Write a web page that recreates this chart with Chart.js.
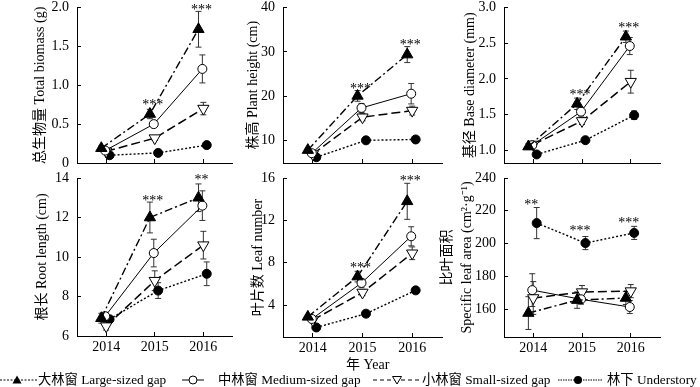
<!DOCTYPE html>
<html>
<head>
<meta charset="utf-8">
<script src="https://cdn.jsdelivr.net/npm/chart.js@4/dist/chart.umd.min.js"></script>
<style>
  body { margin: 0; background: #fff; }
  #wrap { position: relative; width: 700px; height: 387px; overflow: hidden; font-family: "Liberation Serif", "Noto Sans CJK SC", serif; font-size: 14px; color: #000; }
  canvas { position: absolute; }
  .lbl { position: absolute; white-space: nowrap; line-height: 16px; }
  .leg { font-size: 13.3px; }
  svg { position: absolute; }
</style>
</head>
<body>
<div id="wrap">
  <canvas id="p1" width="240" height="175" style="left:0;top:0"></canvas>
  <canvas id="p2" width="215" height="175" style="left:236px;top:0"></canvas>
  <canvas id="p3" width="260" height="175" style="left:440px;top:0"></canvas>
  <canvas id="p4" width="240" height="190" style="left:0;top:168px"></canvas>
  <canvas id="p5" width="215" height="190" style="left:236px;top:168px"></canvas>
  <canvas id="p6" width="270" height="190" style="left:430px;top:168px"></canvas>

  <div class="lbl" style="left:346px;top:357px">年 Year</div>

  <svg width="37" height="12" style="left:0;top:374px">
    <line x1="0" y1="6" x2="37" y2="6" stroke="#000" stroke-width="1.2" stroke-dasharray="2,1.5"/>
    <polygon points="17,1.5 21.5,9.5 12.5,9.5" fill="#000"/>
  </svg>
  <div class="lbl leg" style="left:38px;top:372px">大林窗 Large-sized gap</div>

  <svg width="22" height="12" style="left:182px;top:374px">
    <line x1="0" y1="6" x2="22" y2="6" stroke="#000" stroke-width="1"/>
    <circle cx="11" cy="6" r="4" fill="#fff" stroke="#000" stroke-width="1"/>
  </svg>
  <div class="lbl leg" style="left:218px;top:372px">中林窗 Medium-sized gap</div>

  <svg width="46" height="12" style="left:373px;top:374px">
    <line x1="0" y1="6" x2="46" y2="6" stroke="#000" stroke-width="1" stroke-dasharray="4,3"/>
    <polygon points="19.5,2.5 28.5,2.5 24,10" fill="#fff" stroke="#000" stroke-width="1"/>
  </svg>
  <div class="lbl leg" style="left:422px;top:372px">小林窗 Small-sized gap</div>

  <svg width="45" height="12" style="left:558px;top:374px">
    <line x1="0" y1="6" x2="45" y2="6" stroke="#000" stroke-width="1.2" stroke-dasharray="1.5,1"/>
    <circle cx="20" cy="6" r="4" fill="#000"/>
  </svg>
  <div class="lbl leg" style="left:607px;top:372px">林下 Understory</div>
</div>

<script>
const anos = [2014, 2015, 2016];

// biomassa total (g)
const biomassaGrande = [0.19, 0.63, 1.72];
const biomassaMedia = [0.16, 0.50, 1.21];
const biomassaPequena = [0.15, 0.32, 0.70];
const biomassaSub = [0.10, 0.13, 0.23];
const biomassaErroGrande = [0.03, 0.06, 0.23];
const biomassaErroMedia = [0.02, 0.04, 0.18];
const biomassaErroPequena = [0.02, 0.03, 0.08];
const biomassaErroSub = [0.01, 0.01, 0.02];
const biomassaTicks = [0, 0.5, 1.0, 1.5, 2.0];

// altura (cm)
const alturaGrande = [7.9, 20.1, 29.4];
const alturaMedia = [7.2, 17.4, 20.6];
const alturaPequena = [7.0, 15.3, 16.8];
const alturaSub = [6.3, 10.1, 10.3];
const alturaErroGrande = [0.5, 1.2, 1.8];
const alturaErroMedia = [0.4, 1.0, 2.3];
const alturaErroPequena = [0.4, 0.8, 1.0];
const alturaErroSub = [0.2, 0.3, 0.3];
const alturaTicks = [10, 20, 30, 40];

// diametro da base (mm)
const diametroGrande = [1.05, 1.65, 2.59];
const diametroMedia = [1.07, 1.54, 2.46];
const diametroPequena = [1.08, 1.41, 1.96];
const diametroSub = [0.94, 1.14, 1.49];
const diametroErroGrande = [0.04, 0.08, 0.08];
const diametroErroMedia = [0.03, 0.06, 0.12];
const diametroErroPequena = [0.03, 0.05, 0.16];
const diametroErroSub = [0.02, 0.03, 0.06];
const diametroTicks = [1.0, 1.5, 2.0, 2.5, 3.0];

// comprimento da raiz (cm)
const raizGrande = [6.9, 12.0, 13.0];
const raizMedia = [7.0, 10.2, 12.6];
const raizPequena = [6.5, 8.8, 10.6];
const raizSub = [6.85, 8.3, 9.15];
const raizErroGrande = [0.25, 0.78, 0.7];
const raizErroMedia = [0.2, 0.7, 0.75];
const raizErroPequena = [0.2, 0.5, 0.7];
const raizErroSub = [0.15, 0.4, 0.6];
const raizTicks = [6, 8, 10, 12, 14];

// numero de folhas
const folhasGrande = [2.9, 6.7, 13.8];
const folhasMedia = [2.7, 6.1, 10.5];
const folhasPequena = [2.6, 5.2, 8.9];
const folhasSub = [1.9, 3.2, 5.4];
const folhasErroGrande = [0.2, 0.5, 1.7];
const folhasErroMedia = [0.2, 0.4, 0.9];
const folhasErroPequena = [0.2, 0.3, 0.6];
const folhasErroSub = [0.1, 0.15, 0.2];
const folhasTicks = [4, 8, 12, 16];

// area foliar especifica (cm2/g)
const afeGrande = [157.6, 165.5, 166.8];
const afeMedia = [171.6, 166.0, 161.3];
const afePequena = [166.8, 170.4, 171.0];
const afeSub = [212.5, 200.3, 206.5];
const afeErroGrande = [10, 5, 4];
const afeErroMedia = [10, 3, 4];
const afeErroPequena = [10, 4, 4];
const afeErroSub = [9.5, 4, 4];
const afeTicks = [160, 180, 200, 220, 240];

// asteriscos de significancia
const sigBiomassa = [{ ano: 2015, y: 0.78, txt: '***' }, { ano: 2016, y: 2.01, txt: '***' }];
const sigAltura = [{ ano: 2015, y: 22.3, txt: '***' }, { ano: 2016, y: 32.3, txt: '***' }];
const sigDiametro = [{ ano: 2015, y: 1.81, txt: '***' }, { ano: 2016, y: 2.76, txt: '***' }];
const sigRaiz = [{ ano: 2015, y: 13.0, txt: '***' }, { ano: 2016, y: 14.05, txt: '**' }];
const sigFolhas = [{ ano: 2015, y: 7.8, txt: '***' }, { ano: 2016, y: 16.0, txt: '***' }];
const sigAfe = [{ ano: 2014, y: 225.3, txt: '**' }, { ano: 2015, y: 209.5, txt: '***' }, { ano: 2016, y: 214.3, txt: '***' }];

const FONTE = '"Liberation Serif", "Noto Sans CJK SC", serif';

// deslocamento horizontal de cada serie para nao sobrepor
const desloc = { grande: -0.1, media: -0.02, pequena: 0.0, sub: 0.07 };

function pontos(valores, dx) {
    return valores.map((v, i) => ({ x: anos[i] + dx, y: v }));
}

function series(g, m, p, s, eg, em, ep, es) {
    return [
        { data: pontos(g, desloc.grande), erros: eg, borderColor: '#000', borderWidth: 1.4, borderDash: [8, 3, 2, 3],
          pointStyle: 'triangle', pointRadius: 6.5, pointBackgroundColor: '#000', pointBorderColor: '#000', pointBorderWidth: 1 },
        { data: pontos(m, desloc.media), erros: em, borderColor: '#000', borderWidth: 1,
          pointStyle: 'circle', pointRadius: 4.5, pointBackgroundColor: '#fff', pointBorderColor: '#000', pointBorderWidth: 1 },
        { data: pontos(p, desloc.pequena), erros: ep, borderColor: '#000', borderWidth: 1.5, borderDash: [9, 4],
          pointStyle: 'triangle', rotation: 180, pointRotation: 180, pointRadius: 6.5, pointBackgroundColor: '#fff', pointBorderColor: '#000', pointBorderWidth: 1 },
        { data: pontos(s, desloc.sub), erros: es, borderColor: '#000', borderWidth: 1.4, borderDash: [2, 2],
          pointStyle: 'circle', pointRadius: 4.5, pointBackgroundColor: '#000', pointBorderColor: '#000', pointBorderWidth: 1 }
    ];
}

const barrasErro = {
    id: 'barrasErro',
    beforeDatasetsDraw(chart) {
        const ctx = chart.ctx;
        const ys = chart.scales.y;
        ctx.save();
        ctx.strokeStyle = '#333';
        ctx.lineWidth = 1;
        chart.data.datasets.forEach((ds, i) => {
            const meta = chart.getDatasetMeta(i);
            meta.data.forEach((pt, j) => {
                const v = ds.data[j].y, e = ds.erros[j];
                const y1 = ys.getPixelForValue(v + e), y2 = ys.getPixelForValue(v - e);
                ctx.beginPath();
                ctx.moveTo(pt.x, y1); ctx.lineTo(pt.x, y2);
                ctx.moveTo(pt.x - 3, y1); ctx.lineTo(pt.x + 3, y1);
                ctx.moveTo(pt.x - 3, y2); ctx.lineTo(pt.x + 3, y2);
                ctx.stroke();
            });
        });
        ctx.restore();
    },
    afterDatasetsDraw(chart, args, opts) {
        const ctx = chart.ctx;
        ctx.save();
        ctx.font = '14px ' + FONTE;
        ctx.fillStyle = '#000';
        ctx.textAlign = 'center';
        ctx.textBaseline = 'alphabetic';
        (opts.sig || []).forEach(s => {
            const x = chart.scales.x.getPixelForValue(s.ano - 0.04);
            const y = chart.scales.y.getPixelForValue(s.y);
            ctx.fillText(s.txt, x, y + 7);
        });
        ctx.restore();
    }
};

function criarPainel(id, cfg) {
    const ctx = document.getElementById(id).getContext('2d');
    return new Chart(ctx, {
        type: 'line',
        data: { datasets: cfg.datasets },
        plugins: [barrasErro],
        options: {
            responsive: false,
            animation: false,
            devicePixelRatio: 1,
            layout: { padding: { left: 0, top: cfg.topo, right: cfg.direita, bottom: 0 } },
            plugins: { legend: { display: false }, tooltip: { enabled: false }, barrasErro: { sig: cfg.sig } },
            scales: {
                x: {
                    type: 'linear', min: 2013.4, max: 2016.6,
                    afterBuildTicks: s => { s.ticks = anos.map(v => ({ value: v })); },
                    afterFit: s => { s.height = cfg.alturaX; s.paddingLeft = 0; s.paddingRight = 0; },
                    border: { display: true, color: '#000', width: 1 },
                    grid: { drawOnChartArea: false, tickLength: -4, color: '#000' },
                    ticks: { display: cfg.rotulosX, padding: 7, color: '#000', font: { family: FONTE, size: 14 }, callback: v => String(v) }
                },
                y: {
                    min: cfg.min, max: cfg.max,
                    afterBuildTicks: s => { s.ticks = cfg.ticks.map(v => ({ value: v })); },
                    afterFit: s => { s.width = cfg.larguraY; s.paddingTop = 0; s.paddingBottom = 0; },
                    border: { display: true, color: '#000', width: 1 },
                    grid: { drawOnChartArea: false, tickLength: -4, color: '#000' },
                    ticks: { padding: 12, color: '#000', font: { family: FONTE, size: 14 }, callback: cfg.formato },
                    title: {
                        display: true, text: cfg.titulo, color: '#000',
                        font: { family: FONTE, size: 14, lineHeight: cfg.alturaLinha || 1.2 },
                        padding: { top: cfg.tituloPad, bottom: 0 }
                    }
                }
            }
        }
    });
}

const umaCasa = v => (v === 0 ? '0' : v.toFixed(1));
const inteiro = v => String(v);

criarPainel('p1', {
    datasets: series(biomassaGrande, biomassaMedia, biomassaPequena, biomassaSub,
        biomassaErroGrande, biomassaErroMedia, biomassaErroPequena, biomassaErroSub),
    sig: sigBiomassa, min: 0, max: 2.0, ticks: biomassaTicks, formato: umaCasa,
    titulo: '总生物量 Total biomass (g)', tituloPad: 31.6,
    topo: 6, direita: 5, larguraY: 77, alturaX: 12, rotulosX: false
});

criarPainel('p2', {
    datasets: series(alturaGrande, alturaMedia, alturaPequena, alturaSub,
        alturaErroGrande, alturaErroMedia, alturaErroPequena, alturaErroSub),
    sig: sigAltura, min: 5, max: 40, ticks: alturaTicks, formato: inteiro,
    titulo: '株高 Plant height (cm)', tituloPad: 8.6,
    topo: 6, direita: 9, larguraY: 47, alturaX: 12, rotulosX: false
});

criarPainel('p3', {
    datasets: series(diametroGrande, diametroMedia, diametroPequena, diametroSub,
        diametroErroGrande, diametroErroMedia, diametroErroPequena, diametroErroSub),
    sig: sigDiametro, min: 0.82, max: 3.0, ticks: diametroTicks, formato: umaCasa,
    titulo: '基径 Base diameter (mm)', tituloPad: 21.6,
    topo: 6, direita: 40, larguraY: 64, alturaX: 12, rotulosX: false
});

criarPainel('p4', {
    datasets: series(raizGrande, raizMedia, raizPequena, raizSub,
        raizErroGrande, raizErroMedia, raizErroPequena, raizErroSub),
    sig: sigRaiz, min: 6, max: 14, ticks: raizTicks, formato: inteiro,
    titulo: '根长 Root length (cm)', tituloPad: 33.6,
    topo: 10, direita: 5, larguraY: 77, alturaX: 22, rotulosX: true
});

criarPainel('p5', {
    datasets: series(folhasGrande, folhasMedia, folhasPequena, folhasSub,
        folhasErroGrande, folhasErroMedia, folhasErroPequena, folhasErroSub),
    sig: sigFolhas, min: 1, max: 16, ticks: folhasTicks, formato: inteiro,
    titulo: '叶片数 Leaf number', tituloPad: 13.6,
    topo: 10, direita: 9, larguraY: 47, alturaX: 21, rotulosX: true
});

criarPainel('p6', {
    datasets: series(afeGrande, afeMedia, afePequena, afeSub,
        afeErroGrande, afeErroMedia, afeErroPequena, afeErroSub),
    sig: sigAfe, min: 143, max: 240, ticks: afeTicks, formato: inteiro,
    titulo: ['比叶面积', 'Specific leaf area (cm²·g⁻¹)'], tituloPad: 7, alturaLinha: 1.43,
    topo: 10, direita: 40, larguraY: 74, alturaX: 21, rotulosX: true
});
</script>
</body>
</html>
